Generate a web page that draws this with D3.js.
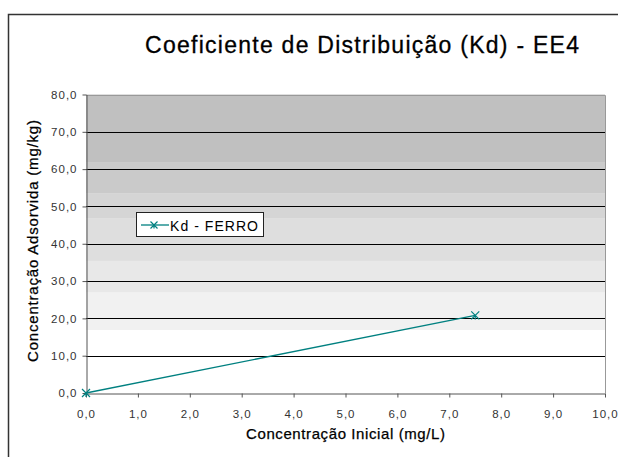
<!DOCTYPE html>
<html><head><meta charset="utf-8">
<script src="https://cdn.jsdelivr.net/npm/d3@7/dist/d3.min.js"></script>
<style>body{margin:0;background:#fff}svg{display:block}text{font-family:"Liberation Sans",Arial,sans-serif}</style>
</head><body>
<script>
// Data
const title = "Coeficiente de Distribuição (Kd) - EE4";
const xTitle = "Concentração Inicial (mg/L)";
const yTitle = "Concentração Adsorvida (mg/kg)";
const seriesName = "Kd - FERRO";
const xValues = [0.0, 7.5];
const yValues = [0.0, 20.8];
const xTicks = [0,1,2,3,4,5,6,7,8,9,10];
const yTicks = [0,10,20,30,40,50,60,70,80];
// background shading band limits (value units) and greys
const bandLimits = [80, 61.9, 53.4, 46.7, 35.4, 26.9, 16.9, 0];
const bandGreys = ["#c0c0c0", "#cacaca", "#d5d5d5", "#dedede", "#e8e8e8", "#f1f1f1", "#ffffff"];

const W = 618, H = 457;
const m = {left: 86, right: 605, top: 94.5, bottom: 393};
const svg = d3.select("body").append("svg").attr("width", W).attr("height", H);

// outer frame
svg.append("path").attr("d", `M8.5,${H} V14.5 H${W}`).attr("fill","none").attr("stroke","#333").attr("stroke-width",1.5);

const x = d3.scaleLinear().domain([0,10]).range([m.left, m.right]);
const y = d3.scaleLinear().domain([0,80]).range([m.bottom, m.top]);
const fmt = d => d.toFixed(1).replace(".", ",");

// bands
svg.append("g").selectAll("rect").data(bandGreys).join("rect")
  .attr("x", m.left).attr("width", m.right - m.left)
  .attr("y", (d,i) => y(bandLimits[i]))
  .attr("height", (d,i) => y(bandLimits[i+1]) - y(bandLimits[i]))
  .attr("fill", d => d);

// gridlines
svg.append("g").selectAll("line").data(yTicks.filter(t => t > 0 && t < 80)).join("line")
  .attr("x1", m.left).attr("x2", m.right)
  .attr("y1", d => Math.round(y(d)) + 0.5).attr("y2", d => Math.round(y(d)) + 0.5)
  .attr("stroke", "#000").attr("stroke-width", 1);

// plot border (top/right)
svg.append("path").attr("d", `M${m.left},${Math.round(m.top)+0.5} H${m.right+0.5} V${m.bottom}`)
  .attr("fill","none").attr("stroke","#999").attr("stroke-width",1);

// axes
const xAxis = svg.append("g").attr("transform", `translate(0,${m.bottom + 0.5})`)
  .call(d3.axisBottom(x).tickValues(xTicks).tickFormat(fmt).tickSize(4).tickPadding(12).tickSizeOuter(0));
const yAxis = svg.append("g").attr("transform", `translate(${m.left + 0.5},0)`)
  .call(d3.axisLeft(y).tickValues(yTicks).tickFormat(fmt).tickSize(4).tickPadding(5).tickSizeOuter(0));
[xAxis, yAxis].forEach(a => {
  a.select(".domain").attr("stroke", "#555");
  a.selectAll(".tick line").attr("stroke", "#555");
  a.selectAll(".tick text").attr("font-size", 11.5).attr("fill", "#333")
    .attr("font-family", '"Liberation Sans",Arial,sans-serif').style("letter-spacing", "1px");
});

// series
const pts = xValues.map((v,i) => [v, yValues[i]]);
svg.append("path").datum(pts)
  .attr("d", d3.line().x(d => x(d[0])).y(d => y(d[1])))
  .attr("fill","none").attr("stroke","#008080").attr("stroke-width",1.3);
function star(g, cx, cy, r) {
  g.append("path").attr("d", `M${cx-r},${cy-r}L${cx+r},${cy+r}M${cx-r},${cy+r}L${cx+r},${cy-r}M${cx},${cy}V${cy+r}`)
   .attr("stroke","#008080").attr("stroke-width",1.2).attr("fill","none");
}
const mk = svg.append("g");
pts.forEach(d => star(mk, x(d[0]), y(d[1]), 4));

// legend
const lg = svg.append("g");
lg.append("rect").attr("x", 136.5).attr("y", 212.5).attr("width", 127).attr("height", 24)
  .attr("fill", "#fff").attr("stroke", "#222").attr("stroke-width", 1);
lg.append("line").attr("x1", 141).attr("x2", 169).attr("y1", 225).attr("y2", 225)
  .attr("stroke", "#008080").attr("stroke-width", 1.3);
star(lg, 154, 225, 3.5);
lg.append("text").attr("x", 170).attr("y", 230.5).attr("font-size", 14).attr("fill", "#000")
  .attr("textLength", 88).attr("lengthAdjust", "spacing").text(seriesName);

// titles
const cx = (m.left + m.right) / 2, cy = (m.top + m.bottom) / 2;
svg.append("text").attr("x", 362).attr("y", 53).attr("text-anchor","middle")
  .attr("font-size", 23).attr("fill","#000").attr("stroke","#000").attr("stroke-width",0.3)
  .attr("textLength", 434).attr("lengthAdjust","spacing").text(title);
svg.append("text").attr("x", cx).attr("y", 439).attr("text-anchor","middle")
  .attr("font-size", 15).attr("fill","#000").attr("stroke","#000").attr("stroke-width",0.25)
  .attr("textLength", 199).attr("lengthAdjust","spacing").text(xTitle);
svg.append("text").attr("transform", `translate(38,241) rotate(-90)`).attr("text-anchor","middle")
  .attr("font-size", 15).attr("fill","#000").attr("stroke","#000").attr("stroke-width",0.25)
  .attr("textLength", 242).attr("lengthAdjust","spacing").text(yTitle);
</script>
</body></html>
